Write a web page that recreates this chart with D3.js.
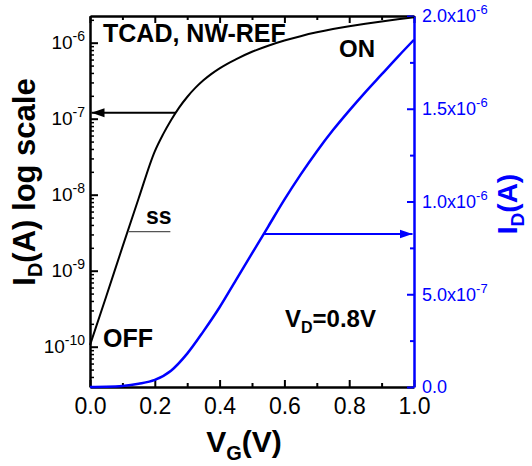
<!DOCTYPE html>
<html><head><meta charset="utf-8">
<script src="https://cdn.jsdelivr.net/npm/d3@7"></script>
<style>body{margin:0;background:#fff}</style>
</head><body>
<svg id="c" width="532" height="466"></svg>
<script>
// ---- data ----
const vgLog = [0,0.05,0.1,0.15,0.2,0.225,0.25,0.275,0.3,0.325,0.35,0.375,0.4,0.425,0.45,0.5,0.55,0.6,0.65,0.7,0.75,0.8,0.85,0.9,0.95,1.0];
const idLog = [1.05e-10,4.57e-10,2.04e-9,8.9e-9,3.72e-8,6.17e-8,9.55e-8,1.40e-7,1.93e-7,2.54e-7,3.20e-7,3.89e-7,4.60e-7,5.32e-7,6.04e-7,7.59e-7,9.12e-7,1.067e-6,1.219e-6,1.368e-6,1.510e-6,1.644e-6,1.774e-6,1.901e-6,2.028e-6,2.153e-6];
const vgLin = [0,0.05,0.1,0.15,0.2,0.25,0.3,0.35,0.4,0.45,0.5,0.55,0.6,0.65,0.7,0.75,0.8,0.85,0.9,0.95,1.0];
const idLin = [0,1e-9,5e-9,1.7e-8,3.8e-8,8.8e-8,1.8e-7,3.0e-7,4.3e-7,5.75e-7,7.2e-7,8.65e-7,1.01e-6,1.145e-6,1.27e-6,1.385e-6,1.49e-6,1.59e-6,1.685e-6,1.78e-6,1.872e-6];
const xMajor = [0,0.2,0.4,0.6,0.8,1.0];
const xMinor = [0.1,0.3,0.5,0.7,0.9];
const xTickLabels = ["0.0","0.2","0.4","0.6","0.8","1.0"];
const logMajor = [1e-10,1e-9,1e-8,1e-7,1e-6];
const logExp = ["-10","-9","-8","-7","-6"];
const linMajor = [0,5e-7,1e-6,1.5e-6,2e-6];
const linMinor = [2.5e-7,7.5e-7,1.25e-6,1.75e-6];
const linMant = ["0.0","5.0x10","1.0x10","1.5x10","2.0x10"];
const linExp = ["","-7","-6","-6","-6"];
const arrowLeft = {vg0:0.265, id:1.2e-7};
const arrowRight = {vg0:0.537, id:8.25e-7};
const ssLine = {vg0:0.118, vg1:0.248, id:3.26e-9};

// ---- setup ----
const FONT = "'Liberation Sans', Arial, Helvetica, sans-serif";
const BLUE = "#0000ff";
const svg = d3.select('#c').style('font-family', FONT);
const x = d3.scaleLinear().domain([0,1]).range([90,414]);
const yL = d3.scaleLog().domain([2.95e-11, 2.245e-6]).range([387,16]);
const yR = d3.scaleLinear().domain([0,2e-6]).range([387,16]);

const defs = svg.append('defs');
function marker(id,color){
  defs.append('marker').attr('id',id).attr('markerUnits','userSpaceOnUse')
    .attr('markerWidth',14).attr('markerHeight',10).attr('refX',13).attr('refY',5)
    .attr('orient','auto').append('path').attr('d','M0,0.5 L13,5 L0,9.5 Z').attr('fill',color);
}
marker('ak','#000'); marker('ab',BLUE);

function style(g,color,w){
  g.select('.domain').attr('stroke',color).attr('stroke-width',w);
  g.selectAll('.tick line').attr('stroke',color).attr('stroke-width',2);
  g.selectAll('.tick text').attr('fill',color).style('font-family',FONT);
}

// bottom axis
const gB = svg.append('g').attr('transform','translate(0,387)')
  .call(d3.axisBottom(x).tickValues(xMajor).tickFormat((d,i)=>xTickLabels[i]).tickSizeInner(-7).tickSizeOuter(0).tickPadding(11));
style(gB,'#000',2.5); gB.selectAll('.tick text').attr('font-size',23);
const gBm = svg.append('g').attr('transform','translate(0,387)')
  .call(d3.axisBottom(x).tickValues(xMinor).tickFormat('').tickSize(-4));
style(gBm,'#000',0); gBm.select('.domain').remove();
// top axis
const gT = svg.append('g').attr('transform','translate(0,16)')
  .call(d3.axisTop(x).tickValues(xMajor).tickFormat('').tickSizeInner(-7).tickSizeOuter(0));
style(gT,'#000',2.5);
const gTm = svg.append('g').attr('transform','translate(0,16)')
  .call(d3.axisTop(x).tickValues(xMinor).tickFormat('').tickSize(-4));
gTm.select('.domain').remove(); style(gTm,'#000',0);

// left log axis
const gL = svg.append('g').attr('transform','translate(90,0)')
  .call(d3.axisLeft(yL).tickValues(logMajor).tickFormat('').tickSizeInner(-8).tickSizeOuter(0).tickPadding(5));
style(gL,'#000',2.5);
gL.selectAll('.tick text').each(function(d,i){
  const t = d3.select(this).attr('font-size',19);
  t.append('tspan').text('10');
  t.append('tspan').attr('dy','-8').attr('font-size',14).text(logExp[i]);
});
const minorLog = yL.ticks().filter(v => logMajor.every(m => Math.abs(v/m-1) > 1e-6));
const gLm = svg.append('g').attr('transform','translate(90,0)')
  .call(d3.axisLeft(yL).tickValues(minorLog).tickFormat('').tickSize(-4));
gLm.select('.domain').remove(); style(gLm,'#000',0);
gLm.selectAll('.tick line').attr('stroke-width',1.5);

// right linear axis
const gR = svg.append('g').attr('transform','translate(414,0)')
  .call(d3.axisRight(yR).tickValues(linMajor).tickFormat('').tickSizeInner(-7).tickSizeOuter(0).tickPadding(8));
style(gR,BLUE,2.5);
gR.selectAll('.tick text').each(function(d,i){
  const t = d3.select(this).attr('font-size',18);
  t.append('tspan').text(linMant[i]);
  if (linExp[i]) t.append('tspan').attr('dy','-8').attr('font-size',13).text(linExp[i]);
});
const gRm = svg.append('g').attr('transform','translate(414,0)')
  .call(d3.axisRight(yR).tickValues(linMinor).tickFormat('').tickSize(-4));
gRm.select('.domain').remove(); style(gRm,BLUE,0);

// curves
const lineLog = d3.line().x((d,i)=>x(vgLog[i])).y(d=>yL(d)).curve(d3.curveMonotoneX);
svg.append('path').attr('d', lineLog(idLog)).attr('fill','none').attr('stroke','#000').attr('stroke-width',2);
const lineLin = d3.line().x((d,i)=>x(vgLin[i])).y(d=>yR(d)).curve(d3.curveMonotoneX);
svg.append('path').attr('d', lineLin(idLin)).attr('fill','none').attr('stroke',BLUE).attr('stroke-width',2.5);

// arrows
svg.append('line').attr('x1',x(arrowLeft.vg0)).attr('x2',x(0)+1.5)
  .attr('y1',yL(arrowLeft.id)).attr('y2',yL(arrowLeft.id))
  .attr('stroke','#000').attr('stroke-width',2).attr('marker-end','url(#ak)');
svg.append('line').attr('x1',x(arrowRight.vg0)).attr('x2',x(1)-1.5)
  .attr('y1',yR(arrowRight.id)).attr('y2',yR(arrowRight.id))
  .attr('stroke',BLUE).attr('stroke-width',2).attr('marker-end','url(#ab)');
// ss line
svg.append('line').attr('x1',x(ssLine.vg0)).attr('x2',x(ssLine.vg1))
  .attr('y1',yL(ssLine.id)).attr('y2',yL(ssLine.id)).attr('stroke','#555').attr('stroke-width',1.2);

// annotations
function txt(xp,yp,s,size,color){
  return svg.append('text').attr('x',xp).attr('y',yp).attr('font-size',size)
    .attr('font-weight','bold').attr('fill',color||'#000').text(s);
}
txt(103,42,'TCAD, NW-REF',25);
txt(339,57,'ON',24);
txt(146,224,'ss',23);
txt(103,347,'OFF',25);
const vd = svg.append('text').attr('x',285).attr('y',327).attr('font-size',24).attr('font-weight','bold');
vd.append('tspan').text('V');
vd.append('tspan').attr('dy',6).attr('font-size',16).text('D');
vd.append('tspan').attr('dy',-6).text('=0.8V');

// axis titles
const tl = svg.append('text').attr('transform','translate(35,182) rotate(-90)')
  .attr('text-anchor','middle').attr('font-size',31).attr('font-weight','bold');
tl.append('tspan').text('I');
tl.append('tspan').attr('dy',7).attr('font-size',20).text('D');
tl.append('tspan').attr('dy',-7).text('(A) log scale');

const tr = svg.append('text').attr('transform','translate(517,204) rotate(-90)')
  .attr('text-anchor','middle').attr('font-size',28).attr('font-weight','bold').attr('fill',BLUE);
tr.append('tspan').text('I');
tr.append('tspan').attr('dy',7).attr('font-size',19).text('D');
tr.append('tspan').attr('dy',-7).text('(A)');

const tb = svg.append('text').attr('x',244).attr('y',452)
  .attr('text-anchor','middle').attr('font-size',30).attr('font-weight','bold');
tb.append('tspan').text('V');
tb.append('tspan').attr('dy',8).attr('font-size',20).text('G');
tb.append('tspan').attr('dy',-8).text('(V)');
</script>
</body></html>
